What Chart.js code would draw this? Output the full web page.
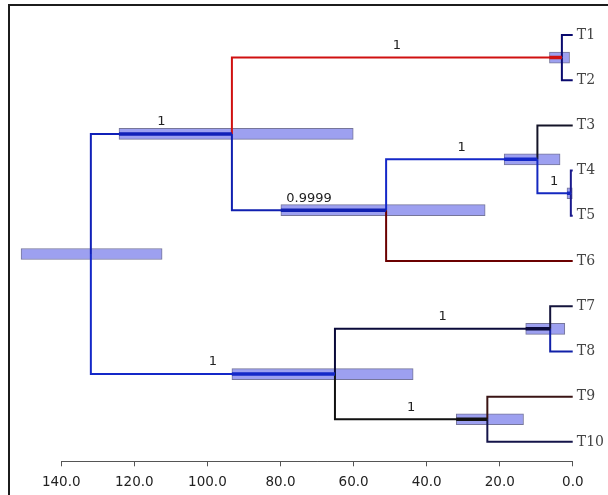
<!DOCTYPE html>
<html>
<head>
<meta charset="utf-8">
<script src="https://cdn.jsdelivr.net/npm/chart.js@4.4.0/dist/chart.umd.min.js"></script>
<style>
html, body { margin: 0; padding: 0; background: #fff; overflow: hidden; }
.rule { position: absolute; background: #1c1c1c; }
#tree { position: absolute; left: 0; top: 0; }
</style>
</head>
<body>
<div class="rule" style="left:8px; top:4px; width:600px; height:2px;"></div>
<div class="rule" style="left:8px; top:4px; width:2px; height:491px;"></div>
<canvas id="tree" width="608" height="495"></canvas>
<script>
var tipNames = ['T1', 'T2', 'T3', 'T4', 'T5', 'T6', 'T7', 'T8', 'T9', 'T10'];

// internal nodes are numbered after the tips: 10, 11, ... (last one is the root)
var nodeChildren = [[0, 1], [3, 4], [2, 11], [12, 5], [10, 13], [6, 7], [8, 9], [15, 16], [14, 17]];
var nodeHeights = [3.0, 0.55, 9.7, 51.1, 93.3, 6.2, 23.4, 65.1, 131.9];
var hpdLower = [0.9, 0.0, 3.5, 24.0, 60.1, 2.2, 13.5, 43.7, 112.4];
var hpdUpper = [6.4, 1.6, 18.8, 79.9, 124.2, 12.9, 31.9, 93.3, 151.0];
var posterior = [1, 1, 1, 0.9999, 1, 1, 1, 1, null];
var axisTicks = [0, 20, 40, 60, 80, 100, 120, 140];

// colour of the branch leading to each node (tips 0-9, then internal nodes)
var branchColours = ['#0a0a6e', '#0a0a6e', '#141428', '#1a1a8c', '#1a1a8c', '#6b0000', '#14143c', '#1020a8', '#3a1414', '#14144a',
	'#d01010', '#1428c0', '#1428c8', '#1020b0', '#1020b8', '#0a0a3a', '#111111', '#1428c8'];

var nTips = tipNames.length;
var parentOf = {};
nodeChildren.forEach(function (kids, k) {
	kids.forEach(function (c) { parentOf[c] = k + nTips; });
});

function height(n)
{
	return n < nTips ? 0 : nodeHeights[n - nTips];
}

function ypos(n)
{
	if (n < nTips)
		return n + 1;
	var kids = nodeChildren[n - nTips];
	return (ypos(kids[0]) + ypos(kids[1])) / 2;
}

var datasets = [];

// HPD bars
datasets.push({
	type: 'bar',
	indexAxis: 'y',
	data: nodeHeights.map(function (h, k) {
		return { x: [hpdLower[k], hpdUpper[k]], y: ypos(k + nTips) };
	}),
	backgroundColor: '#9da0f0',
	borderColor: '#76769a',
	borderWidth: 1,
	borderSkipped: false,
	barThickness: 11,
	order: 2
});

// branches, drawn as elbows from parent to child
for (var c = 0; c < nTips + nodeHeights.length - 1; c++) {
	var p = parentOf[c];
	datasets.push({
		data: [
			{ x: height(p), y: ypos(p) },
			{ x: height(p), y: ypos(c) },
			{ x: height(c), y: ypos(c) }
		],
		showLine: true,
		borderColor: branchColours[c],
		borderWidth: 2,
		borderJoinStyle: 'miter',
		pointRadius: 0,
		order: 1
	});
	// heavier stroke where the branch runs through the node's HPD bar
	if (c >= nTips) {
		var hi = Math.min(hpdUpper[c - nTips], height(p));
		if (hi > height(c)) {
			datasets.push({
				data: [{ x: height(c), y: ypos(c) }, { x: hi, y: ypos(c) }],
				showLine: true,
				borderColor: branchColours[c],
				borderWidth: 3.5,
				pointRadius: 0,
				order: 0
			});
		}
	}
}

var treeExtras = {
	id: 'treeExtras',
	afterDatasetsDraw: function (chart) {
		var ctx = chart.ctx, xs = chart.scales.x, ys = chart.scales.y;
		ctx.save();
		ctx.font = '13px "DejaVu Sans"';
		ctx.fillStyle = '#222';
		ctx.textAlign = 'center';
		ctx.textBaseline = 'middle';
		posterior.forEach(function (pp, k) {
			if (pp === null) return;
			var node = k + nTips, par = parentOf[node];
			var mid = (height(node) + height(par)) / 2;
			ctx.fillText(String(pp), xs.getPixelForValue(mid), ys.getPixelForValue(ypos(node)) - 12);
		});
		// axis line only across the labelled range
		var yb = Math.round(chart.chartArea.bottom) + 0.5;
		ctx.strokeStyle = '#555';
		ctx.lineWidth = 1;
		ctx.beginPath();
		ctx.moveTo(xs.getPixelForValue(axisTicks[axisTicks.length - 1]), yb);
		ctx.lineTo(xs.getPixelForValue(axisTicks[0]), yb);
		ctx.stroke();
		ctx.restore();
	}
};

new Chart(document.getElementById('tree').getContext('2d'), {
	type: 'scatter',
	data: { datasets: datasets },
	plugins: [treeExtras],
	options: {
		responsive: false,
		animation: false,
		layout: { padding: { left: 17.4, top: 8, right: 0, bottom: -3.5 } },
		plugins: { legend: { display: false }, tooltip: { enabled: false } },
		scales: {
			x: {
				type: 'linear',
				reverse: true,
				offset: false,
				beginAtZero: false,
				min: 0,
				max: 152,
				afterBuildTicks: function (s) { s.ticks = axisTicks.map(function (v) { return { value: v }; }); },
				grid: { drawOnChartArea: false, offset: false, tickLength: 5, color: '#555' },
				border: { display: false },
				ticks: {
					padding: 8,
					color: '#222',
					autoSkip: false,
					maxRotation: 0,
					font: { family: 'DejaVu Sans', size: 13.5 },
					callback: function (v) { return Number(v).toFixed(1); }
				}
			},
			y: {
				type: 'linear',
				position: 'right',
				reverse: true,
				offset: false,
				min: 0.5,
				max: 10.43,
				afterBuildTicks: function (s) { s.ticks = tipNames.map(function (n, i) { return { value: i + 1 }; }); },
				grid: { display: false, drawTicks: false, offset: false },
				border: { display: false },
				ticks: {
					padding: 4,
					color: '#444',
					autoSkip: false,
					font: { family: 'DejaVu Serif', size: 14 },
					callback: function (v) { return tipNames[v - 1]; }
				}
			}
		}
	}
});
</script>
</body>
</html>
